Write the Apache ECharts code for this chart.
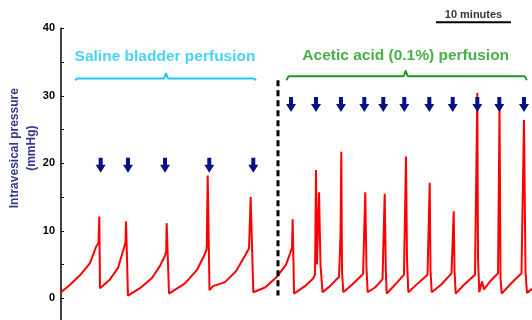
<!DOCTYPE html>
<html>
<head>
<meta charset="utf-8">
<script src="https://cdn.jsdelivr.net/npm/echarts@6/dist/echarts.min.js"></script>
<style>
  html, body { margin: 0; padding: 0; background: #fff; }
  #chart { width: 532px; height: 320px; }
</style>
</head>
<body>
<div id="chart"></div>
<script>
// trace: time (minutes) and intravesical pressure (mmHg)
var traceTime = [
  0.00, 1.20, 2.53, 3.87, 4.67, 5.00, 5.11, 5.20,
  6.53, 7.60, 8.40, 8.60, 8.67, 8.93,
  10.53, 12.13, 13.20, 13.87, 14.03, 14.09, 14.40,
  16.53, 18.13, 19.07, 19.43, 19.56, 19.80,
  20.27, 21.87, 23.33, 24.53, 25.07, 25.29, 25.64,
  27.20, 28.80, 30.00, 30.53, 30.80, 30.89, 31.07,
  32.53, 33.60, 33.87, 34.00, 34.13, 34.40, 34.60, 34.87,
  35.87, 37.07, 37.27, 37.37, 37.47, 37.64,
  38.80, 40.27, 40.57, 40.73, 40.89,
  41.87, 42.87, 43.16, 43.31, 43.43,
  44.53, 45.73, 46.00, 46.13, 46.31,
  47.47, 48.87, 49.16, 49.27, 49.43,
  50.67, 52.07, 52.36, 52.47, 52.63,
  53.73, 55.20, 55.51, 55.60, 55.77, 56.13, 56.40, 57.20,
  58.27, 58.47, 58.60, 58.76,
  60.00, 61.40, 61.73, 61.93, 62.13, 62.80
];
var tracePressure = [
  0.9, 2.0, 3.4, 5.2, 7.6, 8.2, 12.1, 1.5,
  2.8, 4.5, 7.5, 8.3, 11.4, 0.4,
  1.5, 3.0, 4.8, 6.3, 7.0, 11.1, 0.7,
  2.2, 4.2, 6.3, 7.3, 18.2, 1.2,
  1.8, 2.4, 4.0, 6.3, 7.4, 15.0, 0.9,
  1.6, 3.2, 5.0, 6.6, 7.5, 11.7, 0.7,
  1.8, 2.9, 3.5, 19.0, 5.0, 15.7, 5.0, 0.9,
  1.8, 3.2, 9.4, 21.7, 4.0, 0.9,
  2.0, 3.6, 15.7, 4.5, 0.9,
  1.6, 2.8, 15.5, 4.0, 0.7,
  2.0, 3.5, 21.0, 6.0, 0.9,
  2.1, 3.5, 17.1, 4.0, 0.9,
  2.0, 3.7, 12.9, 4.0, 0.7,
  2.0, 3.5, 30.4, 6.0, 0.9, 2.5, 1.3, 2.5,
  3.7, 28.3, 3.0, 0.7,
  2.2, 3.7, 26.4, 4.0, 0.8, 1.4
];

// bladder filling markers (minutes)
var salineArrows = [5.29, 8.93, 13.87, 19.77, 25.64];
var aceticArrows = [30.67, 34.00, 37.33, 40.44, 42.97, 45.77, 49.11, 52.23, 55.51, 58.44, 61.73];
var salineArrowLevel = 19.7;
var aceticArrowLevel = 28.7;

var switchTime = 28.93;
var switchRange = [0.4, 32.3];

// braces: [start, tip, end] in minutes, and [end level, line level, tip level]
var salineBrace = { x: [1.87, 14.0, 26.0], y: [32.3, 32.55, 33.3] };
var aceticBrace = { x: [30.09, 45.96, 62.09], y: [32.3, 32.9, 33.7] };

var yTicks = [0, 10, 20, 30, 40];
var scaleBar = [50, 60];

var chart = echarts.init(document.getElementById('chart'));

var trace = traceTime.map(function (t, i) { return [t, tracePressure[i]]; });

function bracePoints(b) {
  var d = 0.35;
  return [
    [b.x[0], b.y[0]],
    [b.x[0] + d, b.y[1]],
    [b.x[1] - d, b.y[1]],
    [b.x[1], b.y[2]],
    [b.x[1] + d, b.y[1]],
    [b.x[2] - d, b.y[1]],
    [b.x[2], b.y[0]]
  ];
}

var arrowPath = 'path://M3,0 L7,0 L7,7 L10,7 L5,15 L0,7 L3,7 Z';
var navy = '#061284';

chart.setOption({
  animation: false,
  grid: { left: 61, top: 28.3, width: 471, height: 303.75, outerBoundsMode: 'none', containLabel: false },
  xAxis: {
    type: 'value', min: 0, max: 62.8, show: false
  },
  yAxis: {
    type: 'value', min: -5, max: 40, interval: 5,
    splitLine: { show: false },
    axisLine: { show: true, lineStyle: { color: '#000', width: 1.5 } },
    axisTick: { show: true, inside: true, length: 3, lineStyle: { color: '#000' } },
    axisLabel: {
      color: '#000', fontWeight: 'bold', fontSize: 11, fontFamily: 'Liberation Sans',
      margin: 6,
      formatter: function (v) { return yTicks.indexOf(v) >= 0 ? String(v) : ''; }
    },
    name: 'Intravesical pressure\n(mmHg)',
    nameLocation: 'middle',
    nameRotate: 90,
    nameGap: 21,
    nameMoveOverlap: false,
    nameTextStyle: {
      color: '#383890', fontWeight: 'bold', fontSize: 12, fontFamily: 'Liberation Sans',
      lineHeight: 17, padding: [0, 0, 0, 64]
    }
  },
  series: [
    {
      type: 'line', data: trace, symbol: 'none',
      lineStyle: { color: '#ff0000', width: 2 }, z: 2
    },
    {
      type: 'line', data: [[switchTime, switchRange[1]], [switchTime, switchRange[0]]],
      symbol: 'none', lineStyle: { color: '#000', width: 3, type: [6, 4] }, z: 3
    },
    {
      type: 'line', data: bracePoints(salineBrace), symbol: 'none', smooth: 0.3,
      lineStyle: { color: '#1ec8f2', width: 2 }
    },
    {
      type: 'line', data: bracePoints(aceticBrace), symbol: 'none', smooth: 0.3,
      lineStyle: { color: '#1c9c1c', width: 2 }
    },
    {
      type: 'scatter', symbol: arrowPath, symbolSize: [10, 15], z: 5,
      itemStyle: { color: navy, opacity: 1 },
      data: salineArrows.map(function (t) { return [t, salineArrowLevel]; })
        .concat(aceticArrows.map(function (t) { return [t, aceticArrowLevel]; }))
    },
    {
      type: 'scatter', symbolSize: 0, clip: false,
      data: [
        { value: [13.87, 35.75], label: { formatter: 'Saline bladder perfusion', color: '#1ec8f2' } },
        { value: [45.96, 36.0], label: { formatter: 'Acetic acid (0.1%) perfusion', color: '#1c9c1c' } },
        { value: [55, 42.0], label: { formatter: '10 minutes', color: '#000', fontSize: 11 } }
      ],
      label: {
        show: true, position: 'inside', fontWeight: 'bold', fontSize: 15.5,
        fontFamily: 'Liberation Sans'
      }
    },
    {
      type: 'line', clip: false, symbol: 'none',
      data: [[scaleBar[0], 40.9], [scaleBar[1], 40.9]],
      lineStyle: { color: '#000', width: 2 }
    }
  ]
});
</script>
</body>
</html>
